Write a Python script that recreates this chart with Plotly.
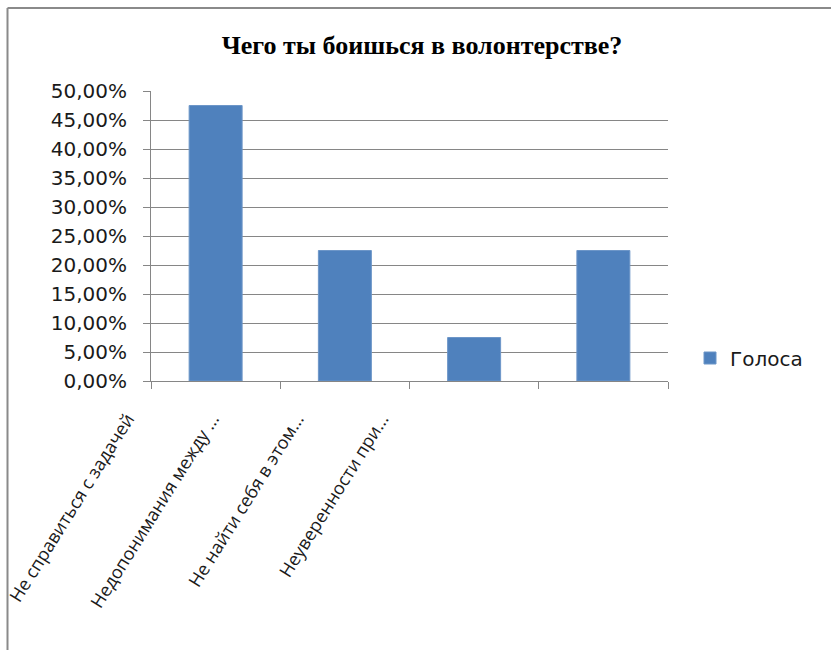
import plotly.graph_objects as go

categories = ["Не справиться с задачей", "Недопонимания между ...", "Не найти себя в этом...", "Неуверенности при..."]
values = [0.475, 0.225, 0.075, 0.225]
series_name = "Голоса"
title_text = "Чего ты боишься в волонтерстве?"

W, H = 831, 650
ML, MR, MT, MB = 60, 0, 91, 30
PW, PH = W - ML - MR, H - MT - MB


def px(x):
    return (x - ML) / PW


def py(y):
    return (H - MB - y) / PH


fig = go.Figure()
fig.add_trace(go.Bar(
    x=categories, y=values, name=series_name,
    marker=dict(color="#4F81BD", line=dict(color="#6D96C8", width=1)),
    width=0.41, xaxis="x", yaxis="y",
))
# invisible carrier for the label axis
fig.add_trace(go.Scatter(
    x=categories, y=[0] * len(categories), mode="markers",
    marker=dict(opacity=0), showlegend=False, hoverinfo="skip",
    xaxis="x2", yaxis="y2",
))

font_main = "Open Sans, Lato, sans-serif"
font_wide = "DejaVu Sans, sans-serif"
fig.update_layout(
    width=W, height=H,
    margin=dict(l=ML, r=MR, t=MT, b=MB, autoexpand=False),
    paper_bgcolor="white", plot_bgcolor="rgba(0,0,0,0)",
    separators=", ",
    title=dict(text="<b>" + title_text + "</b>", xref="container", yref="container",
               x=422 / W, y=(H - 45) / H, xanchor="center", yanchor="middle",
               font=dict(family="Liberation Serif, serif", size=26, color="#000000")),
    xaxis=dict(domain=[px(151), px(668)], anchor="y", type="category",
               range=[-0.5, 3.5], showticklabels=False, ticks="outside",
               tickson="boundaries", ticklen=7, tickcolor="#868686",
               showline=True, linecolor="#868686", linewidth=1, showgrid=False,
               zeroline=False),
    xaxis2=dict(domain=[px(85), px(424)], anchor="free",
                position=py(404), type="category", range=[-0.5, 3.5],
                showline=False, ticks="", showgrid=False, zeroline=False,
                tickangle=-58,
                tickfont=dict(family=font_main, size=18, color="#1a1a1a")),
    yaxis2=dict(domain=[0, py(420)], anchor="x2", visible=False,
                showgrid=False, zeroline=False, range=[0, 1]),
    yaxis=dict(domain=[py(381), 1], range=[0, 0.5], dtick=0.05,
               tickformat=".2%", ticks="outside", ticklen=7,
               tickcolor="#868686", showline=True, linecolor="#868686",
               linewidth=1, showgrid=True, gridcolor="#868686", gridwidth=1,
               zeroline=False, ticklabelstandoff=12,
               tickfont=dict(family=font_wide, size=20, color="#1a1a1a")),
    legend=dict(x=px(690), y=py(358), xanchor="left", yanchor="middle",
                bgcolor="rgba(0,0,0,0)",
                font=dict(family=font_wide, size=20, color="#1a1a1a")),
    showlegend=True,
    shapes=[
        dict(type="line", xref="paper", yref="paper", x0=px(7.5), x1=px(831),
             y0=py(8), y1=py(8), line=dict(color="#8a8a8a", width=2)),
        dict(type="line", xref="paper", yref="paper", x0=px(7.5), x1=px(7.5),
             y0=py(8), y1=py(650), line=dict(color="#8a8a8a", width=2)),
    ],
)

fig.write_html("out.html")
